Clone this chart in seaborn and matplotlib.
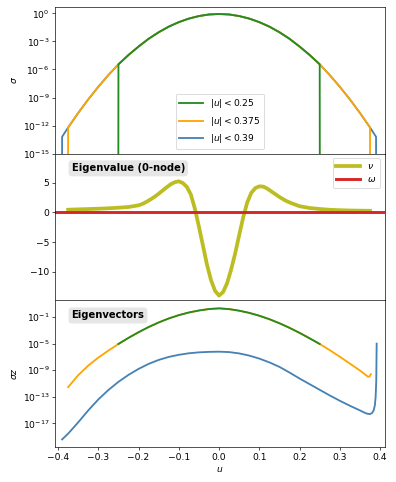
import numpy as np
import pandas as pd
import matplotlib
matplotlib.use('Agg')
import matplotlib.pyplot as plt
import seaborn as sns
from matplotlib.ticker import NullLocator

# ---------------------------------------------------------------------------
# data
# ---------------------------------------------------------------------------

# top panel: sigma(u), log10 values; outside every window sigma is zero
u_sig = [-0.4, -0.39, -0.375, -0.35, -0.325, -0.3, -0.275, -0.25, -0.225, -0.2,
         -0.175, -0.15, -0.125, -0.1, -0.075, -0.05, -0.025, 0.0, 0.025, 0.05,
         0.075, 0.1, 0.125, 0.15, 0.175, 0.2, 0.225, 0.25, 0.275, 0.3, 0.325,
         0.35, 0.375, 0.39, 0.4]
log_sig = [np.nan, -13.2, -12.2, -10.65, -9.2, -7.85, -6.6, -5.45, -4.45, -3.55,
           -2.72, -2.02, -1.42, -0.94, -0.56, -0.29, -0.12, -0.07, -0.12, -0.29,
           -0.56, -0.94, -1.42, -2.02, -2.72, -3.55, -4.45, -5.45, -6.6, -7.85,
           -9.2, -10.65, -12.2, -13.2, np.nan]
cutoffs = [0.25, 0.375, 0.39]
cut_labels = [r'$|u| < 0.25$', r'$|u| < 0.375$', r'$|u| < 0.39$']
cut_colors = ['forestgreen', 'orange', 'steelblue']

# middle panel: eigenvalue nu(u) and omega
u_nu = [-0.375, -0.35, -0.325, -0.3, -0.275, -0.25, -0.225, -0.2, -0.19, -0.18,
        -0.17, -0.16, -0.15, -0.14, -0.13, -0.12, -0.11, -0.1, -0.09, -0.08,
        -0.07, -0.06, -0.05, -0.04, -0.03, -0.02, -0.01, 0.0, 0.01, 0.02,
        0.03, 0.04, 0.05, 0.06, 0.07, 0.08, 0.09, 0.1, 0.11, 0.12,
        0.135, 0.15, 0.165, 0.18, 0.2, 0.225, 0.25, 0.275, 0.3, 0.325,
        0.35, 0.375]
nu = [0.46, 0.52, 0.57, 0.63, 0.7, 0.8, 0.92, 1.2, 1.45, 1.8,
      2.2, 2.65, 3.15, 3.7, 4.25, 4.75, 5.1, 5.25, 4.95, 4.3,
      3.0, 0.6, -2.4, -5.6, -8.8, -11.4, -13.2, -14.0, -13.4, -11.9,
      -9.6, -6.9, -3.8, -0.8, 1.7, 3.3, 4.1, 4.4, 4.35, 4.0,
      3.3, 2.6, 2.0, 1.55, 1.05, 0.75, 0.58, 0.45, 0.38, 0.33,
      0.3, 0.28]
omega = 0.15

# bottom panel: eigenvectors sigma*z, log10 values
u_vec = [-0.375, -0.35, -0.325, -0.3, -0.275, -0.25, -0.225, -0.2, -0.175, -0.15,
         -0.125, -0.1, -0.075, -0.05, -0.025, 0.0, 0.025, 0.05, 0.075, 0.1,
         0.125, 0.15, 0.175, 0.2, 0.225, 0.25, 0.275, 0.3, 0.325, 0.35,
         0.36, 0.366, 0.371, 0.374, 0.377]
log_vec = [-11.55, -9.75, -8.3, -7.1, -6.05, -5.05, -4.13, -3.28, -2.5, -1.81,
           -1.21, -0.71, -0.31, -0.01, 0.21, 0.31, 0.2, -0.04, -0.37, -0.8,
           -1.32, -1.93, -2.62, -3.38, -4.2, -5.05, -5.98, -6.97, -8.0, -9.05,
           -9.5, -9.8, -10.0, -9.95, -9.6]
u_vec39 = [-0.39, -0.375, -0.35, -0.325, -0.3, -0.275, -0.25, -0.225, -0.2, -0.175,
           -0.15, -0.125, -0.1, -0.075, -0.05, -0.025, 0.0, 0.025, 0.05, 0.075,
           0.1, 0.125, 0.15, 0.175, 0.2, 0.225, 0.25, 0.275, 0.3, 0.325,
           0.35, 0.36, 0.368, 0.375, 0.38, 0.384, 0.387, 0.389, 0.3905, 0.3915]
log_vec39 = [-19.42, -18.55, -16.85, -15.05, -13.4, -11.98, -10.75, -9.7, -8.8, -8.05,
             -7.45, -7.0, -6.68, -6.45, -6.31, -6.24, -6.21, -6.27, -6.47, -6.8,
             -7.25, -7.82, -8.5, -9.35, -10.25, -11.1, -11.95, -12.8, -13.6, -14.35,
             -15.05, -15.35, -15.55, -15.6, -15.45, -15.05, -14.3, -13.0, -10.6, -5.0]

# ---------------------------------------------------------------------------
# figure
# ---------------------------------------------------------------------------
plt.rcParams['font.size'] = 11
plt.rcParams['legend.fontsize'] = 11

fig, axes = plt.subplots(3, 1, figsize=(6.6, 482 / 60), sharex=True)
fig.subplots_adjust(left=0.139, right=0.972, top=0.9855, bottom=0.0726, hspace=0)
ax1, ax2, ax3 = axes

# --- sigma ---
ax1.set_yscale('log')
u_arr = np.array(u_sig)
for cut, lab, col in reversed(list(zip(cutoffs, cut_labels, cut_colors))):
    vals = np.where(np.abs(u_arr) <= cut + 1e-9, 10.0 ** np.array(log_sig), 0.0)
    df = pd.DataFrame({'u': u_arr, 'sigma': vals})
    sns.lineplot(data=df, x='u', y='sigma', color=col, lw=2.2, label=lab,
                 estimator=None, ax=ax1)
handles, labels = ax1.get_legend_handles_labels()
ax1.legend(handles[::-1], labels[::-1], loc='lower center', handlelength=2.6)
ax1.set_ylim(1e-15, 10 ** 0.68)
ax1.set_yticks([1e0, 1e-3, 1e-6, 1e-9, 1e-12, 1e-15])
ax1.yaxis.set_minor_locator(NullLocator())
ax1.set_ylabel(r'$\sigma$')

# --- eigenvalue ---
sns.lineplot(x=u_nu, y=nu, color='tab:olive', lw=4.5, label=r'$\nu$',
             estimator=None, ax=ax2)
ax2.axhline(omega, color='tab:red', lw=3.5, label=r'$\omega$')
ax2.legend(loc='upper right', handlelength=2.6)
ax2.set_ylim(-14.8, 9.9)
ax2.text(0.05, 0.9, 'Eigenvalue (0-node)', transform=ax2.transAxes,
         fontsize=12, fontweight='bold', va='center', ha='left',
         bbox=dict(boxstyle='round,pad=0.3', fc='#e6e6e6', ec='none'))

# --- eigenvectors ---
ax3.set_yscale('log')
u_v = np.array(u_vec)
vec = 10.0 ** np.array(log_vec)
sns.lineplot(x=u_vec39, y=10.0 ** np.array(log_vec39), color='steelblue',
             lw=2.2, estimator=None, ax=ax3)
sns.lineplot(x=u_v, y=vec, color='orange', lw=2.2, estimator=None, ax=ax3)
inner = np.abs(u_v) <= 0.25 + 1e-9
sns.lineplot(x=u_v[inner], y=vec[inner], color='forestgreen', lw=2.2,
             estimator=None, ax=ax3)
ax3.set_ylim(10 ** -20.56, 10 ** 1.52)
ax3.set_yticks([1e-1, 1e-5, 1e-9, 1e-13, 1e-17])
ax3.yaxis.set_minor_locator(NullLocator())
ax3.set_ylabel(r'$\sigma z$')
ax3.text(0.05, 0.897, 'Eigenvectors', transform=ax3.transAxes,
         fontsize=12, fontweight='bold', va='center', ha='left',
         bbox=dict(boxstyle='round,pad=0.3', fc='#e6e6e6', ec='none'))

ax3.set_xlim(-0.4075, 0.412)
ax3.set_xticks([-0.4, -0.3, -0.2, -0.1, 0.0, 0.1, 0.2, 0.3, 0.4])
ax3.set_xlabel(r'$u$')

fig.savefig('out.png', dpi=60)
